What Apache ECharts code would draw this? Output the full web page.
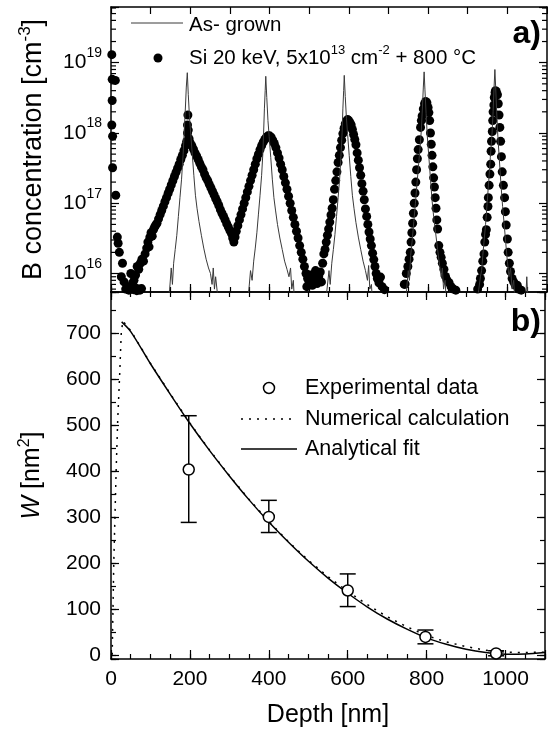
<!DOCTYPE html>
<html><head><meta charset="utf-8">
<script src="https://cdn.jsdelivr.net/npm/echarts/dist/echarts.min.js"></script>
<style>html,body{margin:0;padding:0;background:#fff}#c{width:548px;height:737px}</style>
</head><body><div id="c"></div>
<script>
const FONT = "'Liberation Sans', Arial, Helvetica, sans-serif";
// ---------- Panel a) : B concentration profiles ----------
const siDepth = [2,3,11,3,2,4,4,12,16,18,21,29,26,33,37,41,45,49,50,54,57,58,61,62,65,66,69,70,73,74,77,78,82,86,90,93,96,98,101,104,107,110,113,
116,120,124,128,132,136,140,144,148,152,156,160,164,168,172,176,180,184,188,191,193,193,194,195,197,
200,204,208,212,216,220,224,228,232,236,240,244,248,252,256,260,264,268,272,276,280,284,288,292,296,300,304,307,310,313,
316,320,324,328,332,336,340,344,348,352,356,360,364,368,372,376,380,384,388,392,396,400,404,408,412,
416,420,424,428,432,436,440,444,448,452,456,460,464,468,472,476,480,484,488,492,496,
494,500,504,508,512,516,520,524,528,531,534,537,540,543,546,549,552,555,558,561,564,567,570,573,576,579,582,585,588,591,594,597,
600,603,606,609,612,615,618,621,624,627,630,633,636,639,642,645,648,651,654,657,660,663,666,669,672,676,680,684,690,
740,742,745,749,752,755,757,759,761,763,765,767,769,771,773,775,778,781,783,785,788,791,794,797,800,802,804,806,808,810,812,814,816,818,820,822,824,827,830,833,836,840,844,848,853,858,864,870,
925,930,932,935,938,941,943,945,947,949,951,952,954,956,958,959,960,962,963,964,966,967,969,970,972,975,977,979,981,983,985,987,990,993,995,997,1000,1002,1005,1008,1012,1016,1020,1025,1028,1035];
const siConc = [1.3e19,5.8e18,5.6e18,2.9e18,1.3e18,9e17,3.2e17,1.3e17,3.3e16,2.7e16,2e16,1.4e16,9e15,7.6e15,6e15,6.4e15,5.8e15,6.2e15,1.0e16,7.2e15,5.9e15,8.0e15,6.3e15,9.5e15,5.7e15,1.26e16,6e15,1.15e16,5.8e15,1.4e16,6.1e15,1.6e16,1.5e16,1.9e16,2.3e16,2.8e16,2.4e16,3.3e16,3.8e16,3.4e16,4.2e16,4.6e16,4.9e16,
5.2e16,6.0e16,6.9e16,7.9e16,9.1e16,1.05e17,1.2e17,1.38e17,1.58e17,1.82e17,2.09e17,2.4e17,2.75e17,3.16e17,3.6e17,4.2e17,4.8e17,5.6e17,6.6e17,7.6e17,1.0e18,1.3e18,1.8e18,1.1e18,8.3e17,
7.2e17,6.6e17,5.9e17,5.2e17,4.7e17,4.2e17,3.7e17,3.3e17,3.0e17,2.6e17,2.3e17,2.1e17,1.86e17,1.66e17,1.48e17,1.32e17,1.17e17,1.05e17,9.3e16,8.1e16,7.2e16,6.5e16,5.8e16,5.1e16,4.6e16,4.1e16,3.7e16,3.2e16,2.8e16,3.3e16,
4.0e16,4.8e16,5.8e16,6.9e16,8.3e16,1.0e17,1.2e17,1.45e17,1.74e17,2.1e17,2.5e17,3.0e17,3.6e17,4.3e17,5.0e17,5.8e17,6.6e17,7.4e17,8.1e17,8.7e17,9.1e17,9.1e17,8.7e17,7.9e17,7.1e17,
6.2e17,5.2e17,4.4e17,3.6e17,3.0e17,2.4e17,1.95e17,1.58e17,1.26e17,1.0e17,7.9e16,6.3e16,5.0e16,4.0e16,3.2e16,2.5e16,2.0e16,1.6e16,1.26e16,1.0e16,8.5e15,
6.5e15,7.5e15,9.5e15,6.8e15,8.0e15,1.1e16,7.2e15,9e15,1.05e16,7.6e15,1.4e16,1.9e16,2.2e16,2.8e16,3.5e16,4.3e16,5.4e16,6.8e16,8.5e16,1.12e17,1.58e17,2.1e17,2.8e17,3.8e17,4.8e17,6.2e17,7.9e17,9.8e17,1.17e18,1.35e18,1.48e18,1.55e18,
1.5e18,1.4e18,1.3e18,1.12e18,9.5e17,8.1e17,6.8e17,5.2e17,4.1e17,3.2e17,2.5e17,1.9e17,1.48e17,1.12e17,8.3e16,6.5e16,5.0e16,3.9e16,3.1e16,2.5e16,1.95e16,1.58e16,1.26e16,1.0e16,8.5e15,7.4e15,8.9e15,6.5e15,5.9e15,
7e15,7.1e15,1.0e16,1.26e16,1.6e16,2.0e16,2.8e16,3.8e16,5.2e16,7.2e16,1.0e17,1.4e17,2.0e17,3.0e17,4.3e17,5.8e17,8e17,1.2e18,1.5e18,1.75e18,2.2e18,2.6e18,2.8e18,2.7e18,2.3e18,1.95e18,1.5e18,1.0e18,6.9e17,4.8e17,3.3e17,2.3e17,1.7e17,1.2e17,8.5e16,5.8e16,4.3e16,2.5e16,2.0e16,1.7e16,1.4e16,1.15e16,9.1e15,8e15,7.4e15,6.5e15,6e15,5.8e15,
6e15,7e15,8.5e15,1.1e16,1.5e16,1.9e16,2.8e16,3.6e16,4.2e16,6.3e16,9e16,1.2e17,1.8e17,2.6e17,3.6e17,5.5e17,7.6e17,1.05e18,1.5e18,2.0e18,2.5e18,3.2e18,3.8e18,4.0e18,3.9e18,3.5e18,2.6e18,1.8e18,1.2e18,7.6e17,4.6e17,2.8e17,1.8e17,1.2e17,7.6e16,4.9e16,3.1e16,2.0e16,1.4e16,1.07e16,8.5e15,7.6e15,6.8e15,6.8e15,6e15,5.8e15];
const asDepth = [140,148,152,155,158,162,166,170,174,178,182,185,188,190,192.5,195,198,201,205,209,213,217,222,228,234,240,246,251,255,258,261,264,268,272,
340,348,352,356,360,364,368,372,376,380,383,385,387,389,390.5,393,396,399,403,407,411,415,420,426,432,438,444,449,453,456,460,464,
538,545,550,553,557,561,565,569,573,577,580,583,585,587,588.5,591,594,597,601,605,609,613,618,624,630,636,642,647,650,653,657,661,
740,746,750,753,756,760,764,768,772,776,780,783,786,788,790,792,795,798,802,806,810,814,819,824,829,833,836,839,843,847,
920,928,932,935,938,941,945,949,953,957,961,964,966.5,968.5,970.5,973,976,980,984,988,992,996,1000,1004,1008,1012,1016,1020,1045,1049,1053];
const asConc = [3e15,6e15,1.2e16,7e15,1.4e16,2.2e16,3.5e16,6.5e16,1.2e17,2.2e17,5e17,1.1e18,2.5e18,4.5e18,7.2e18,3.5e18,1.7e18,1e18,5e17,2.5e17,1.3e17,8.5e16,5.5e16,3.5e16,2.3e16,1.6e16,1.2e16,1e16,7e15,1.2e16,6e15,9e15,5.5e15,3e15,
3e15,6e15,1.1e16,8e15,1.5e16,2.3e16,3.8e16,7e16,1.3e17,2.5e17,5e17,1e18,2.2e18,4e18,6.4e18,3.2e18,1.5e18,9e17,4.5e17,2.2e17,1.2e17,8e16,5e16,3.2e16,2.2e16,1.5e16,1.15e16,9e15,1.2e16,6e15,8e15,3e15,
3e15,6e15,1.1e16,7e15,1.4e16,2.2e16,3.6e16,6.5e16,1.2e17,2.3e17,4.6e17,1e18,2.2e18,4e18,6.6e18,3.3e18,1.6e18,9.5e17,4.8e17,2.4e17,1.3e17,8.5e16,5.3e16,3.3e16,2.2e16,1.5e16,1.1e16,8e15,1.3e16,6e15,7e15,3e15,
3e15,6e15,1.1e16,8e15,1.8e16,3e16,5.5e16,1e17,1.9e17,3.5e17,6.5e17,1.1e18,2.5e18,4.5e18,7.4e18,4.2e18,1.9e18,9e17,4.5e17,2.2e17,1.1e17,6.5e16,3.8e16,2.2e16,1.3e16,9e15,1.2e16,6e15,8e15,3e15,
3e15,6e15,9e15,1.1e16,1.8e16,2.8e16,5e16,1e17,2.1e17,4.5e17,9e17,2e18,4.5e18,8e18,4.5e18,2e18,9e17,4e17,1.8e17,9e16,5e16,2.7e16,1.5e16,9e15,1.2e16,6e15,8e15,3e15,3e15,9e15,3e15];
const concMin = 5.46e15, concMax = 6.2e19;
// ---------- Panel b) : W vs depth ----------
const expDepth = [197, 400, 600, 797, 976];
const expW     = [403, 300, 140, 39, 3];
const expLow   = [288, 266, 105, 24, -2];
const expHigh  = [520, 336, 176, 54, 9];
const fitDepth = [27,50,100,150,200,250,300,350,400,450,500,550,600,650,700,750,800,850,900,950,1000,1050,1100];
const fitW     = [724,703,633,567,503,444,389,337,289,245,204,167,134,104,78,56,37,23,12,5,1.5,2,5];
const numDepth = [3,5,7,10,13,17,22,26,30,50,100,150,200,250,300,350,400,450,500,550,600,650,700,750,800,850,900,950,1000,1050,1100];
const numW     = [0,100,200,300,400,510,610,700,726,705,634,568,504,445,390,338,290,246,206,170,138,109,83,61,42,28,18,10,6,5,6];
const depthMin = 0, depthMax = 1100;
const wMin = -9, wMax = 789;

const BLACK = '#000';
const zip = (a, b) => a.map((v, i) => [v, b[i]]);

function xAx(grid, pos, interval, len, labels, line) {
  return {type:'value', gridIndex:grid, position:pos, min:depthMin, max:depthMax, interval:interval,
    axisLine:{show:line, onZero:false, lineStyle:{color:BLACK, width:1.5}},
    axisTick:{show:true, inside:true, length:len, lineStyle:{color:BLACK, width:1.2}},
    axisLabel:{show:labels, margin:10, color:BLACK, fontFamily:FONT, fontSize:21,
      formatter:v => (v % 200 === 0 && v <= 1000 ? String(v) : '')},
    splitLine:{show:false},
    name: (labels && grid === 1) ? 'Depth [nm]' : '', nameLocation:'middle', nameGap:44,
    nameTextStyle:{color:BLACK, fontFamily:FONT, fontSize:25}};
}
function wAx(pos, step, len, labels, line) {
  return {type:'value', gridIndex:1, position:pos, min:wMin, max:wMax, minInterval:step, maxInterval:step,
    axisLine:{show:line, onZero:false, lineStyle:{color:BLACK, width:1.5}},
    axisTick:{show:true, inside:true, length:len, lineStyle:{color:BLACK, width:1.2}},
    axisLabel:{show:labels, margin:10, color:BLACK, fontFamily:FONT, fontSize:21,
      formatter:v => (v >= 0 && v % 100 === 0 ? String(v) : '')},
    splitLine:{show:false},
    name: labels ? '{i|W}{b| [nm}{sup|2}{b|]}' : '', nameLocation:'middle', nameGap:66, nameRotate:90,
    nameTextStyle:{color:BLACK, fontFamily:FONT, fontSize:25, rich:{
      i:{fontFamily:FONT, fontSize:25, fontStyle:'italic', lineHeight:25, verticalAlign:'bottom', color:BLACK},
      b:{fontFamily:FONT, fontSize:25, lineHeight:25, verticalAlign:'bottom', color:BLACK},
      sup:{fontFamily:FONT, fontSize:16, lineHeight:16, verticalAlign:'bottom', padding:[0,0,12,0], color:BLACK}}}};
}
function cAx(pos, labels) {
  return {type:'log', logBase:10, gridIndex:0, position:pos, min:concMin, max:concMax,
    axisLine:{show:true, onZero:false, lineStyle:{color:BLACK, width:1.5}},
    axisTick:{show:true, inside:true, length:8, lineStyle:{color:BLACK, width:1.2}},
    axisLabel:{show:labels, margin:9, color:BLACK, fontFamily:FONT, fontSize:21,
      formatter:v => { const l = Math.log10(v), e = Math.round(l); return Math.abs(l - e) < 1e-6 ? '{b|10}{sup|' + e + '}' : ''; },
      rich:{b:{fontFamily:FONT, fontSize:21, lineHeight:21, verticalAlign:'bottom', color:BLACK},
            sup:{fontFamily:FONT, fontSize:14, lineHeight:14, verticalAlign:'bottom', padding:[0,0,13,0], color:BLACK}}},
    splitLine:{show:false},
    name: labels ? '{b|B concentration [cm}{sup|-3}{b|]}' : '', nameLocation:'middle', nameGap:64, nameRotate:90,
    nameTextStyle:{color:BLACK, fontFamily:FONT, fontSize:27, rich:{
      b:{fontFamily:FONT, fontSize:27, lineHeight:27, verticalAlign:'bottom', color:BLACK},
      sup:{fontFamily:FONT, fontSize:17, lineHeight:17, verticalAlign:'bottom', padding:[0,0,13,0], color:BLACK}}}};
}
// log minor tick positions (2..9 x 10^n)
const minorVals = [];
for (let e = 15; e <= 19; e++) for (let m = 2; m <= 9; m++) { const v = m * Math.pow(10, e); if (v > concMin && v < concMax) minorVals.push([depthMin, v]); }

const chart = echarts.init(document.getElementById('c'), null, {renderer:'canvas'});
chart.setOption({
  animation:false,
  backgroundColor:'#fff',
  grid:[{left:111, top:7, width:436, height:285},
        {left:111, top:292, width:436, height:367}],
  xAxis:[xAx(0,'bottom',200,8,false,true), xAx(0,'bottom',50,5,false,false),
         xAx(0,'top',100,7,false,true),
         xAx(1,'bottom',200,9,true,true), xAx(1,'bottom',50,5,false,false),
         xAx(1,'top',200,8,false,true), xAx(1,'top',50,5,false,false)],
  yAxis:[cAx('left',true), cAx('right',false),
         wAx('left',100,8,true,true), wAx('left',50,5,false,false),
         wAx('right',100,8,false,true), wAx('right',50,5,false,false)],
  series:[
    {type:'scatter', xAxisIndex:0, yAxisIndex:0, data:zip(siDepth, siConc), symbol:'circle', symbolSize:9,
     itemStyle:{color:BLACK, opacity:1}, z:2, clip:true},
    {type:'line', xAxisIndex:0, yAxisIndex:0, data:zip(asDepth, asConc), showSymbol:false, symbol:'none',
     lineStyle:{color:'#3a3a3a', width:1}, z:3, clip:true},
    {type:'custom', xAxisIndex:0, yAxisIndex:0, data:minorVals, z:4,
     renderItem:(params, api) => {
       const v = api.value(1); const p = api.coord([depthMin, v]); const q = api.coord([depthMax, v]);
       return {type:'group', children:[
         {type:'line', shape:{x1:p[0], y1:p[1], x2:p[0]+5, y2:p[1]}, style:{stroke:BLACK, lineWidth:1.2}},
         {type:'line', shape:{x1:q[0]-5, y1:q[1], x2:q[0], y2:q[1]}, style:{stroke:BLACK, lineWidth:1.2}}]};
     }},
    {type:'line', xAxisIndex:3, yAxisIndex:2, data:zip(numDepth, numW), showSymbol:false, symbol:'none',
     lineStyle:{color:BLACK, width:1.5, type:[2,6]}, z:2},
    {type:'line', xAxisIndex:3, yAxisIndex:2, data:zip(fitDepth, fitW), showSymbol:false, symbol:'none', smooth:0.3,
     lineStyle:{color:BLACK, width:1.5}, z:3},
    {type:'custom', xAxisIndex:3, yAxisIndex:2, data:expDepth.map((d, i) => [d, expLow[i], expHigh[i]]), z:4,
     encode:{x:0, y:[1,2]},
     renderItem:(params, api) => {
       const x = api.value(0); const a = api.coord([x, api.value(1)]); const b = api.coord([x, api.value(2)]); const w = 8;
       const st = {stroke:BLACK, lineWidth:1.5};
       return {type:'group', children:[
         {type:'line', shape:{x1:a[0], y1:a[1], x2:b[0], y2:b[1]}, style:st},
         {type:'line', shape:{x1:a[0]-w, y1:a[1], x2:a[0]+w, y2:a[1]}, style:st},
         {type:'line', shape:{x1:b[0]-w, y1:b[1], x2:b[0]+w, y2:b[1]}, style:st}]};
     }},
    {type:'scatter', xAxisIndex:3, yAxisIndex:2, data:zip(expDepth, expW), symbol:'circle', symbolSize:11,
     itemStyle:{color:'#fff', borderColor:BLACK, borderWidth:1.5, opacity:1}, z:5}
  ],
  graphic:[
    {type:'line', shape:{x1:131, y1:23, x2:183, y2:23}, style:{stroke:'#3a3a3a', lineWidth:1}},
    {type:'text', x:189, y:25, style:{text:'As- grown', fill:BLACK, font:'20.5px ' + FONT, verticalAlign:'middle'}},
    {type:'circle', shape:{cx:158, cy:58, r:4.5}, style:{fill:BLACK}},
    {type:'text', x:189, y:58, style:{text:'{b|Si 20 keV, 5x10}{sup|13}{b| cm}{sup|-2}{b| + 800 °C}', fill:BLACK, verticalAlign:'middle',
      rich:{b:{font:'20.5px ' + FONT, lineHeight:21, verticalAlign:'bottom', fill:BLACK},
            sup:{font:'13px ' + FONT, lineHeight:13, verticalAlign:'bottom', padding:[0,0,12,0], fill:BLACK}}}},
    {type:'text', x:541, y:34, style:{text:'a)', fill:BLACK, font:'bold 32px ' + FONT, align:'right', verticalAlign:'middle'}},
    {type:'text', x:541, y:322, style:{text:'b)', fill:BLACK, font:'bold 32px ' + FONT, align:'right', verticalAlign:'middle'}},
    {type:'circle', shape:{cx:269, cy:388, r:5.5}, style:{fill:'#fff', stroke:BLACK, lineWidth:1.5}},
    {type:'text', x:305, y:388, style:{text:'Experimental data', fill:BLACK, font:'21.5px ' + FONT, verticalAlign:'middle'}},
    {type:'line', shape:{x1:241, y1:419, x2:297, y2:419}, style:{stroke:BLACK, lineWidth:1.5, lineDash:[2,6]}},
    {type:'text', x:305, y:419, style:{text:'Numerical calculation', fill:BLACK, font:'21.5px ' + FONT, verticalAlign:'middle'}},
    {type:'line', shape:{x1:241, y1:449, x2:297, y2:449}, style:{stroke:BLACK, lineWidth:1.5}},
    {type:'text', x:305, y:449, style:{text:'Analytical fit', fill:BLACK, font:'21.5px ' + FONT, verticalAlign:'middle'}}
  ]
});
</script></body></html>
